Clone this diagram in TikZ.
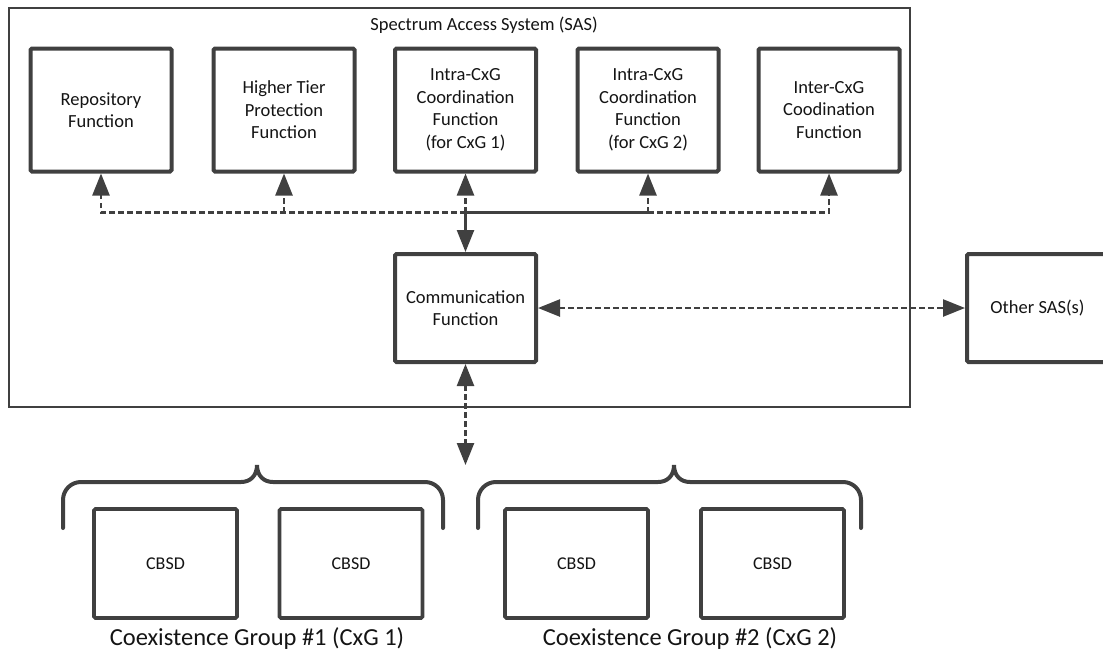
\documentclass[tikz,border=0pt]{standalone}
\usepackage{fontspec}
\setmainfont{Carlito}
\usetikzlibrary{arrows.meta}
\definecolor{ink}{HTML}{404040}
\definecolor{txt}{HTML}{141414}

% curly bracket over a coexistence group: left x, peak x, right x
\newcommand\cxgbrace[3]{%
  \draw[bracestyle] (#1,528) -- (#1,500)
    .. controls (#1,490) and (#1+8,482) .. (#1+18,482)
    -- (#2-16,482)
    .. controls (#2-7,482) and (#2,476) .. (#2,465)
    .. controls (#2,476) and (#2+7,482) .. (#2+16,482)
    -- (#3-18,482)
    .. controls (#3-8,482) and (#3,490) .. (#3,500)
    -- (#3,528);}

\begin{document}
\begin{tikzpicture}[x=1pt,y=-1pt,
  >={Triangle[length=22pt,width=17pt]},
  fnbox/.style={draw=ink, line width=4pt, rounded corners=1.5pt, fill=white,
    minimum width=141pt, minimum height=123pt, inner sep=0pt, align=center,
    text=txt, font=\fontsize{18.5}{22.5}\selectfont},
  midbox/.style={fnbox, minimum height=108pt},
  devbox/.style={fnbox, line width=3.6pt, minimum width=143pt, minimum height=109pt,
    font=\fontsize{18}{22}\selectfont},
  sasframe/.style={draw=ink, line width=2.6pt, inner sep=0pt},
  dashlink/.style={draw=ink, line width=2.5pt, dash pattern=on 5.5pt off 3.5pt},
  solidlink/.style={draw=ink, line width=2.5pt},
  bracestyle/.style={draw=ink, line width=4pt, line cap=round},
  grouplabel/.style={text=txt, font=\fontsize{24.5}{29}\selectfont, anchor=base, inner sep=0pt}
]
\useasboundingbox (0,0) rectangle (1103,651);
\clip (0,0) rectangle (1103,651);

% SAS enclosure and its title
\node[sasframe, minimum width=901pt, minimum height=399pt] (sas) at (459.5,207.5) {};
\node[text=txt, font=\fontsize{18.5}{22.5}\selectfont, anchor=base, inner sep=0pt]
  (title) at (484,30) {Spectrum Access System (SAS)};

% SAS functions
\node[fnbox] (repo)   at (101,110)   {Repository\\Function};
\node[fnbox] (htp)    at (284,110)   {Higher Tier\\Protection\\Function};
\node[fnbox] (intra1) at (465.5,110) {Intra-CxG\\Coordination\\Function\\(for CxG 1)};
\node[fnbox] (intra2) at (648,110)   {Intra-CxG\\Coordination\\Function\\(for CxG 2)};
\node[fnbox] (inter)  at (829,110)   {Inter-CxG\\Coodination\\Function};
\node[midbox] (comm)  at (465.5,308) {Communication\\Function};
\node[midbox] (other) at (1037.5,308) {Other SAS(s)};

% CBSDs
\node[devbox] (cbsd1) at (165.5,563.5) {CBSD};
\node[devbox] (cbsd2) at (351,563.5)   {CBSD};
\node[devbox] (cbsd3) at (576.5,563.5) {CBSD};
\node[devbox] (cbsd4) at (772.5,563.5) {CBSD};

% group brackets and captions
\cxgbrace{63}{257}{443}
\cxgbrace{478}{674}{861}
\node[grouplabel] (cxg1) at (257,645) {Coexistence Group \#1 (CxG 1)};
\node[grouplabel] (cxg2) at (690,645) {Coexistence Group \#2 (CxG 2)};

% internal bus
\coordinate (bus) at (0,212.5);
\coordinate (jA) at (intra1.south |- bus);
\coordinate (jB) at (intra2.south |- bus);
\coordinate (peakline) at (0,465);
\coordinate (cxgtop) at (comm.south |- peakline);

\draw[dashlink,->] (jA) -| (repo.south);
\draw[dashlink,->] (htp.south |- bus) -- (htp.south);
\draw[dashlink,->] (jA) -- (intra1.south);
\draw[solidlink] (jA) -- (jB);
\draw[dashlink,->] (jB) -- (intra2.south);
\draw[dashlink,->] (jB) -| (inter.south);
\draw[solidlink,->] (jA) -- (comm.north);

% external links
\draw[dashlink,<->] (comm.east) -- (other.west);
\draw[dashlink,<->] (comm.south) -- (cxgtop);
\end{tikzpicture}
\end{document}
